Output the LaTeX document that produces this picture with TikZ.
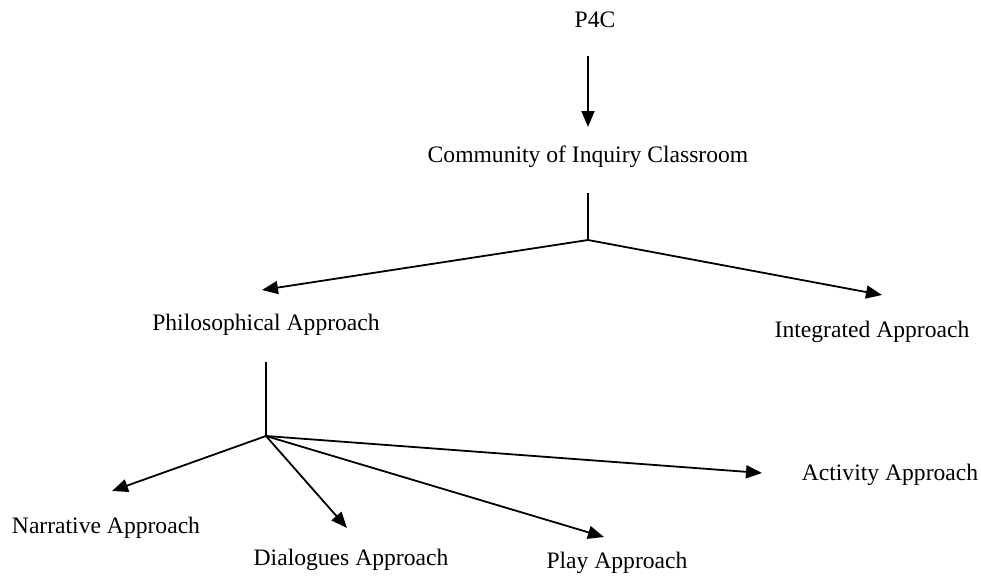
\documentclass[tikz,border=0pt]{standalone}
\usepackage{fontspec}
\setmainfont{Liberation Serif}
\usetikzlibrary{arrows.meta}
\tikzset{
  lbl/.style={anchor=base, inner sep=0pt, font=\fontsize{11.8}{14}\selectfont},
  conn/.style={line width=0.9pt},
  arr/.style={line width=0.9pt, -{Triangle[length=8pt,width=6.5pt]}}
}
\begin{document}
\begin{tikzpicture}[x=0.5pt,y=-0.5pt]
\useasboundingbox (0,0) rectangle (981,578);
% text nodes
\node[lbl] (p4c)   at (595,27)  {P4C};
\node[lbl] (coi)   at (588,162) {Community of Inquiry Classroom};
\node[lbl] (phil)  at (266,330) {Philosophical Approach};
\node[lbl] (integ) at (872,337) {Integrated Approach};
\node[lbl] (narr)  at (106,533) {Narrative Approach};
\node[lbl] (dial)  at (351,565) {Dialogues Approach};
\node[lbl] (play)  at (617,568) {Play Approach};
\node[lbl] (act)   at (890,480) {Activity Approach};
% connector points
\coordinate (p4c-out)  at (588,56);
\coordinate (coi-in)   at (588,127);
\coordinate (coi-out)  at (588,193);
\coordinate (j1)       at (588,240);
\coordinate (phil-in)  at (262,290);
\coordinate (integ-in) at (882,295);
\coordinate (phil-out) at (266,362);
\coordinate (j2)       at (266,436);
\coordinate (narr-in)  at (112,491);
\coordinate (dial-in)  at (347,528);
\coordinate (play-in)  at (604,537);
\coordinate (act-in)   at (762,473);
% connectors
\draw[arr]  (p4c-out) -- (coi-in);
\draw[conn] (coi-out) -- (j1);
\draw[arr]  (j1) -- (phil-in);
\draw[arr]  (j1) -- (integ-in);
\draw[conn] (phil-out) -- (j2);
\draw[arr]  (j2) -- (narr-in);
\draw[arr]  (j2) -- (dial-in);
\draw[arr]  (j2) -- (play-in);
\draw[arr]  (j2) -- (act-in);
\end{tikzpicture}
\end{document}
